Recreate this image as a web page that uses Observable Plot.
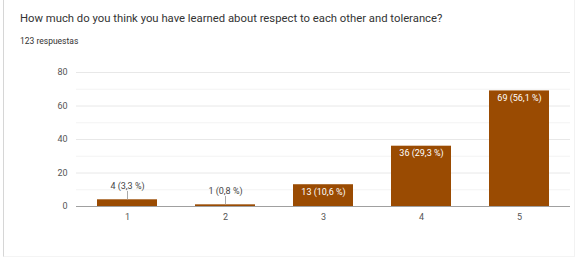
<!DOCTYPE html>
<html>
<head>
<meta charset="utf-8">
<script src="https://cdn.jsdelivr.net/npm/d3@7"></script>
<script src="https://cdn.jsdelivr.net/npm/@observablehq/plot@0.6"></script>
<style>
  body { margin: 0; background: #fff; font-family: Roboto, "Liberation Sans", Arial, sans-serif; }
  #card { position: absolute; left: 3px; top: -2px; width: 572px; height: 259px; box-sizing: border-box;
          border-left: 1px solid #d6d6d6; border-right: 1px solid #f2f2f2; border-bottom: 1px solid #f4f4f4; }
  #title { position: absolute; left: 20px; top: 12px; font-size: 11.3px; color: #333; white-space: nowrap; }
  #sub { position: absolute; left: 20px; top: 36px; font-size: 8.5px; color: #333; white-space: nowrap; }
  #chart { position: absolute; left: 0; top: 50px; }
</style>
</head>
<body>
<div id="card"></div>
<div id="title">How much do you think you have learned about respect to each other and tolerance?</div>
<div id="sub">123 respuestas</div>
<div id="chart"></div>
<script>
const categories = ["1", "2", "3", "4", "5"];
const counts = [4, 1, 13, 36, 69];
const percents = ["3,3", "0,8", "10,6", "29,3", "56,1"];
const yTicks = [0, 20, 40, 60, 80];
const minorTicks = [10, 30, 50, 70];

const data = categories.map((c, i) => ({cat: c, count: counts[i], pct: percents[i]}));
const label = d => `${d.count} (${d.pct} %)`;
const inside = data.filter(d => d.count >= 10);
const outside = data.filter(d => d.count < 10);

const chart = Plot.plot({
  width: 577,
  height: 205,
  marginLeft: 76,
  marginRight: 7,
  marginTop: 22,
  marginBottom: 49,
  style: {fontFamily: "Roboto, 'Liberation Sans', Arial, sans-serif", fontSize: "9px", color: "#555", background: "transparent"},
  x: {domain: categories, paddingInner: 0.39, paddingOuter: 0.195, label: null, tickSize: 0, tickPadding: 7},
  y: {domain: [0, 80], ticks: yTicks, label: null, tickSize: 0, tickPadding: 9},
  marks: [
    Plot.ruleY(minorTicks, {stroke: "#f3f3f3"}),
    Plot.ruleY(yTicks.filter(t => t > 0), {stroke: "#e8e8e8"}),
    Plot.barY(data, {x: "cat", y: "count", fill: "#9a4b02"}),
    Plot.ruleY([0], {stroke: "#a0a0a0"}),
    Plot.ruleX(outside, {x: "cat", y1: "count", y2: d => d.count + 5, stroke: "#aaa"}),
    Plot.text(outside, {x: "cat", y: "count", text: label, dy: -14, fill: "#444"}),
    Plot.text(inside, {x: "cat", y: "count", text: label, dy: 7, fill: "#fff"})
  ]
});
document.getElementById("chart").appendChild(chart);
</script>
</body>
</html>
